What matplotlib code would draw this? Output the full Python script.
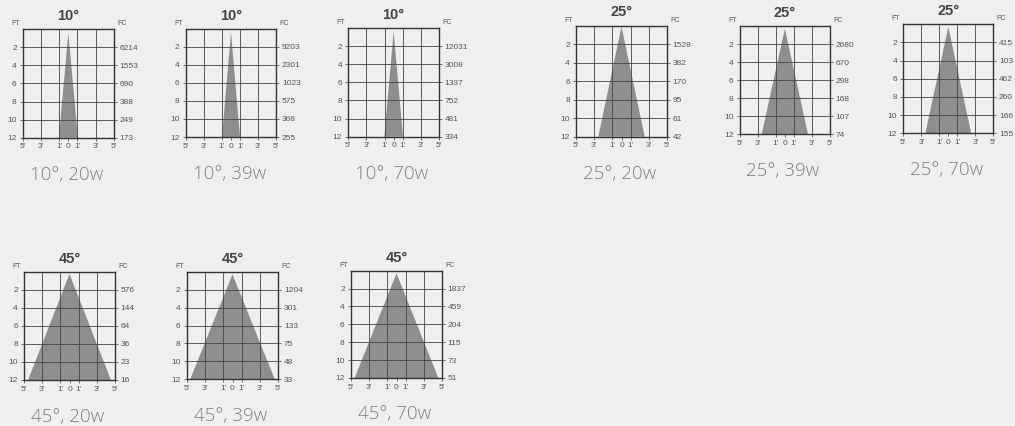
import matplotlib
matplotlib.use("Agg")
import matplotlib.pyplot as plt

# ---------------- data ----------------
beam_titles = ["10°", "10°", "10°", "25°", "25°", "25°", "45°", "45°", "45°"]
captions = ["10°, 20w", "10°, 39w", "10°, 70w",
            "25°, 20w", "25°, 39w", "25°, 70w",
            "45°, 20w", "45°, 39w", "45°, 70w"]
# half beam width (ft) at 12 ft distance
half_width_12ft = [1.05, 1.0, 1.03, 2.55, 2.57, 2.55, 4.55, 4.62, 4.6]
apex_depth = [0.4, 0.4, 0.4, 0.1, 0.3, 0.3, 0.25, 0.3, 0.3]
ft_ticks = [2, 4, 6, 8, 10, 12]
fc_values = [
    ["6214", "1553", "690", "388", "249", "173"],
    ["9203", "2301", "1023", "575", "368", "255"],
    ["12031", "3008", "1337", "752", "481", "334"],
    ["1528", "382", "170", "95", "61", "42"],
    ["2680", "670", "298", "168", "107", "74"],
    ["415", "103", "462", "260", "166", "155"],
    ["576", "144", "64", "36", "23", "16"],
    ["1204", "301", "133", "75", "48", "33"],
    ["1837", "459", "204", "115", "73", "51"],
]
x_ticks = [-5, -3, -1, 0, 1, 3, 5]
x_ticklabels = ["5'", "3'", "1'", "0", "1'", "3'", "5'"]
grid_x = [-3, -1, 1, 3]

# axes rectangles in pixels (left, top, right, bottom)
rects_px = [
    (23, 29.3, 113.7, 137.7),
    (185.7, 28.7, 276.3, 137),
    (348.3, 28, 439, 136.7),
    (576, 25.7, 667, 136.7),
    (739.7, 26, 830, 134.3),
    (903.3, 24.3, 993.3, 133.3),
    (24, 271.7, 115, 380),
    (186.7, 271.7, 278.3, 379.3),
    (351, 270.7, 442, 378),
]

W, H = 1015, 426
BG = "#efefef"
plt.rcParams["font.family"] = ["Liberation Sans", "DejaVu Sans"]
fig = plt.figure(figsize=(W / 100, H / 100), dpi=100, facecolor=BG)

tick_col = "#555555"
line_col = "#444444"
lab_col = "#555555"

for i, (l, t, r, b) in enumerate(rects_px):
    ax = fig.add_axes([l / W, 1 - b / H, (r - l) / W, (b - t) / H])
    ax.set_facecolor(BG)
    ax.set_xlim(-5, 5)
    ax.set_ylim(12, 0)
    hw = half_width_12ft[i]
    ax.fill([-hw, 0, hw], [12, apex_depth[i], 12], color="#8e8e8e", lw=0, zorder=1)
    for gx in grid_x:
        ax.axvline(gx, color=line_col, lw=0.6, zorder=2)
    for gy in ft_ticks[:-1]:
        ax.axhline(gy, color=line_col, lw=0.6, zorder=2)
    for s in ax.spines.values():
        s.set_color("#333333")
        s.set_linewidth(1.0)
    ax.set_xticks(x_ticks)
    ax.set_xticklabels(x_ticklabels)
    ax.set_yticks(ft_ticks)
    ax.set_yticklabels([str(v) for v in ft_ticks])
    ax.tick_params(axis="both", direction="out", length=2.5, width=0.6,
                   color=tick_col, labelsize=6, labelcolor=lab_col, pad=1.5)
    ax.tick_params(axis="y", pad=2)
    ax2 = ax.twinx()
    ax2.set_ylim(12, 0)
    ax2.set_yticks(ft_ticks)
    ax2.set_yticklabels(fc_values[i])
    ax2.tick_params(axis="y", direction="out", length=2.5, width=0.6,
                    color=tick_col, labelsize=6, labelcolor=lab_col, pad=1.5)
    for s in ax2.spines.values():
        s.set_visible(False)
    # labels
    ax.text(-0.08, 1.05, "FT", transform=ax.transAxes, fontsize=5,
            color=lab_col, ha="center", va="center")
    ax.text(1.09, 1.05, "FC", transform=ax.transAxes, fontsize=5,
            color=lab_col, ha="center", va="center")
    ax.text(0.5, 1.12, beam_titles[i], transform=ax.transAxes, fontsize=10.5,
            fontweight="bold", color="#444444", ha="center", va="center")
    ax.text(0.48, -0.34, captions[i], transform=ax.transAxes, fontsize=13.5,
            family=["Open Sans", "DejaVu Sans"], fontweight=300,
            color="#7f7f7f", ha="center", va="center")

fig.savefig("out.png", dpi=100, facecolor=BG)
